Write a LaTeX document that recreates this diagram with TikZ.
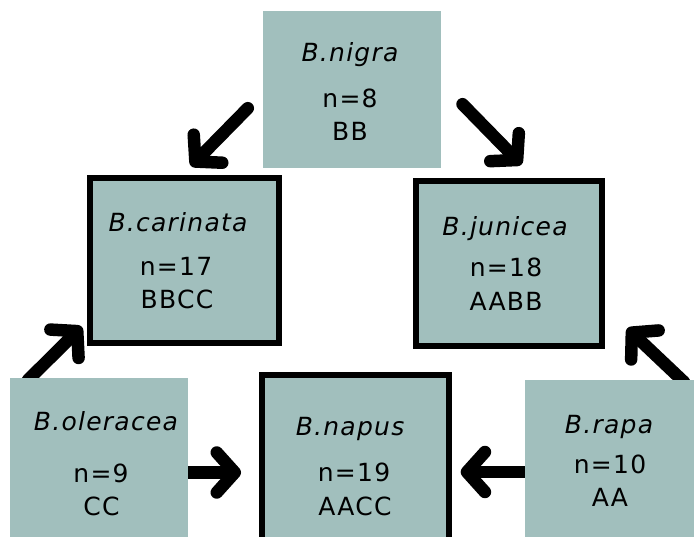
\documentclass[tikz,border=0pt]{standalone}
\usepackage{fontspec}
\setmainfont{DejaVu Sans}[LetterSpace=5]
\usetikzlibrary{arrows.meta,calc,backgrounds}
\definecolor{boxfill}{RGB}{161,191,189}
\begin{document}
\begin{tikzpicture}[x=1pt,y=-1pt,
  plain/.style={fill=boxfill, draw=none, inner sep=0pt, outer sep=0pt},
  framed/.style={fill=boxfill, draw=black, line width=6pt, inner sep=0pt, outer sep=0pt},
  lbl/.style={anchor=base, inner sep=0pt, font=\fontsize{25}{30}\selectfont},
  ttl/.style={anchor=base, inner sep=0pt, font=\fontsize{25}{30}\selectfont\itshape},
  arr/.style={line width=12.5pt, line cap=round, -{Straight Barb[length=18pt,width=40pt,round]}}]
\useasboundingbox (0,0) rectangle (694,537);
% boxes
\node[plain, minimum width=178pt, minimum height=157pt] (nigra) at (351.5,89.5) {};
\node[framed, minimum width=189pt, minimum height=165pt] (carinata) at (184.5,260.5) {};
\node[framed, minimum width=186pt, minimum height=165pt] (junicea) at (509,263.5) {};
\node[plain, minimum width=178pt, minimum height=165pt] (oleracea) at (99,460.5) {};
\node[framed, minimum width=187pt, minimum height=172pt] (napus) at (355.5,461) {};
\node[plain, minimum width=175pt, minimum height=165pt] (rapa) at (612.5,462.5) {};
% texts
\node[ttl] (nigra-t) at (350,62) {B.nigra};
\node[lbl] (nigra-n) at (350,107.5) {n=8};
\node[lbl] (nigra-g) at (350,140.5) {BB};
\node[ttl] (carinata-t) at (178,231.5) {B.carinata};
\node[lbl] (carinata-n) at (176,275.5) {n=17};
\node[lbl] (carinata-g) at (177,308.5) {BBCC};
\node[ttl] (junicea-t) at (505,235.5) {B.junicea};
\node[lbl] (junicea-n) at (506,276.5) {n=18};
\node[lbl] (junicea-g) at (506,310.5) {AABB};
\node[ttl] (oleracea-t) at (106,430.5) {B.oleracea};
\node[lbl] (oleracea-n) at (101,482.5) {n=9};
\node[lbl] (oleracea-g) at (101.5,515.5) {CC};
\node[ttl] (napus-t) at (350,435.5) {B.napus};
\node[lbl] (napus-n) at (354,481.5) {n=19};
\node[lbl] (napus-g) at (355,515.5) {AACC};
\node[ttl] (rapa-t) at (609,433.5) {B.rapa};
\node[lbl] (rapa-n) at (610,473.5) {n=10};
\node[lbl] (rapa-g) at (610,506.5) {AA};
% arrow ends
\coordinate (a1s) at (247.8,108.2);
\coordinate (a1e) at (191,166);
\coordinate (a2s) at (462.5,104.2);
\coordinate (a2e) at (521.5,164.5);
\coordinate (a3e) at (81.7,326.7);
\coordinate (a4e) at (627.3,328.3);
\coordinate (a5e) at (241,472.5);
\coordinate (a6e) at (460.7,472);
\begin{scope}[on background layer]
\draw[arr] (a1s) -- (a1e);
\draw[arr] (a2s) -- (a2e);
\draw[arr] ($(oleracea.north west)+(18,2)$) -- (a3e);
\draw[arr] ($(rapa.north west)+(159,2)$) -- (a4e);
\draw[arr] (oleracea.east |- a5e) -- (a5e);
\draw[arr] (rapa.west |- a6e) -- (a6e);
\end{scope}
\end{tikzpicture}
\end{document}
